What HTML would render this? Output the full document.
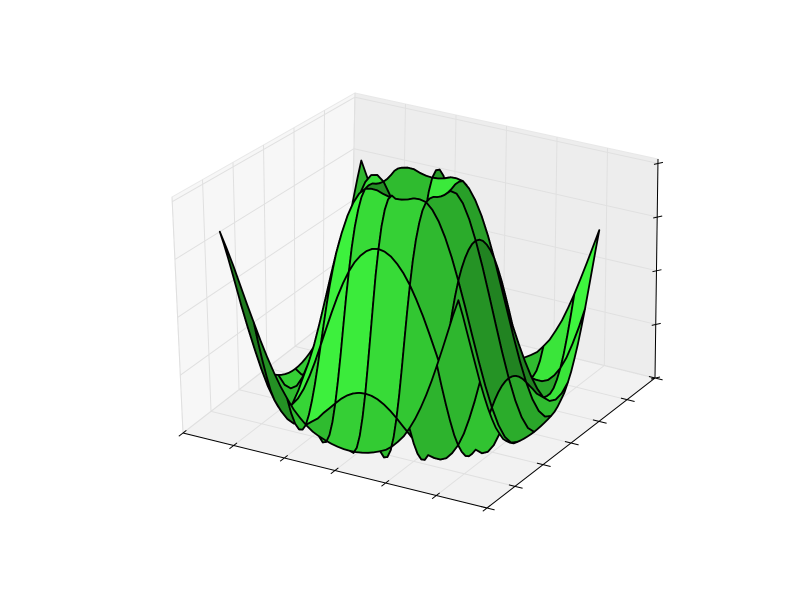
<!DOCTYPE html>
<html><head><meta charset="utf-8"><style>html,body{margin:0;padding:0;background:#fff}svg{display:block}</style></head>
<body>
<svg id="chart" width="800" height="600" viewBox="0 0 800 600" xmlns="http://www.w3.org/2000/svg">
<rect width="800" height="600" fill="#fff"/>
<g id="panes"></g>
<g id="surf"></g>
<g id="axes"></g>
</svg>
<script>
// radial profile of the surface: height vs distance from centre
const radius = [0,0.25,0.5,0.75,1,1.25,1.5,1.75,2,2.25,2.5,2.75,3,3.25,3.5,3.75,4,4.25,4.5,4.75,5,5.25,5.5,5.75,6,6.25,6.5,6.75,7,7.25];
const height = [0,.247,.479,.682,.841,.949,.997,.984,.909,.778,.598,.382,.141,-.108,-.351,-.572,-.757,-.895,-.978,-.999,-.959,-.859,-.706,-.508,-.279,-.033,.215,.451,.657,.823];
const gridMin = -5, gridStep = 0.25, gridCount = 40, stride = 5;
const xTicks = [0,1,2,3,4,5,6];
const yTicks = [0,1,2,3,4,5,6];
const zTicks = [0,1,2,3,4];
const NS='http://www.w3.org/2000/svg';
const xs=[];for(let k=0;k<gridCount;k++)xs.push(gridMin+k*gridStep);
const ys=xs.slice();
function profile(r){
  for(let k=0;k<radius.length-1;k++){
    if(r<=radius[k+1]){const t=(r-radius[k])/(radius[k+1]-radius[k]);return height[k]+t*(height[k+1]-height[k]);}
  }
  return height[height.length-1];
}
const Z=ys.map(y=>xs.map(x=>profile(Math.hypot(x,y))));
function P(u,v,w){
  const bx=183+304*u+168*v, by=433+75*u-130*v;
  const h=236+9*u-26*v, dx=(-11-u+15*v)*w;
  return [bx+dx, by-h*w];
}
const U=x=>0.095+0.785*(x+5)/9.75;
const V=y=>0.095+0.785*(y+5)/9.75;
const W=z=>0.01+0.97*(z+1)/2;
function mk(tag,attrs,parent){const e=document.createElementNS(NS,tag);for(const k in attrs)e.setAttribute(k,attrs[k]);parent.appendChild(e);return e;}
function pts(a){return a.map(p=>p[0].toFixed(1)+','+p[1].toFixed(1)).join(' ');}
const panes=document.getElementById('panes');
let e=mk('polygon',{points:pts([P(0,0,0),P(1,0,0),P(1,1,0),P(0,1,0)]),fill:'#f2f2f2',stroke:'#e8e8e8'},panes);

e=mk('polygon',{points:pts([P(0,0,0),P(0,1,0),P(0,1,1),P(0,0,1)]),fill:'#f7f7f7',stroke:'#e8e8e8'},panes);

e=mk('polygon',{points:pts([P(0,1,0),P(1,1,0),P(1,1,1),P(0,1,1)]),fill:'#ededed',stroke:'#e8e8e8'},panes);

const g='#e0e0e0';
xTicks.forEach(t=>{const u=t/6;
  e=mk('polyline',{points:pts([P(u,0,0),P(u,1,0),P(u,1,1)]),fill:'none',stroke:g,'stroke-width':1},panes);
  });
yTicks.forEach(t=>{const v=t/6;
  e=mk('polyline',{points:pts([P(1,v,0),P(0,v,0),P(0,v,1)]),fill:'none',stroke:g,'stroke-width':1},panes);
  });
zTicks.forEach(t=>{const w=t/4*0.98;
  e=mk('polyline',{points:pts([P(0,0,w),P(0,1,w),P(1,1,w)]),fill:'none',stroke:g,'stroke-width':1},panes);
  });
// surface
const surf=document.getElementById('surf');
const n=xs.length, faces=[];
function Q(i,j){return P(U(xs[j]),V(ys[i]),W(Z[i][j]));}
const idx=[];for(let k=0;k<n-1;k+=stride)idx.push(k);if(idx[idx.length-1]!==n-1)idx.push(n-1);
const light=[-0.667,-0.667,0.333];
for(let a=0;a<idx.length-1;a++)for(let b=0;b<idx.length-1;b++){
  const i0=idx[a],i1=idx[a+1],j0=idx[b],j1=idx[b+1];
  const poly=[];
  for(let k=j0;k<=j1;k++)poly.push(Q(i0,k));
  for(let k=i0+1;k<=i1;k++)poly.push(Q(k,j1));
  for(let k=j1-1;k>=j0;k--)poly.push(Q(i1,k));
  for(let k=i1-1;k>i0;k--)poly.push(Q(k,j0));
  const dx=xs[j1]-xs[j0], dy=ys[i1]-ys[i0];
  const d1=[dx,dy,(Z[i1][j1]-Z[i0][j0])], d2=[-dx,dy,(Z[i1][j0]-Z[i0][j1])];
  let nx=d1[1]*d2[2]-d1[2]*d2[1], ny=d1[2]*d2[0]-d1[0]*d2[2], nz=d1[0]*d2[1]-d1[1]*d2[0];
  const L=Math.hypot(nx,ny,nz);nx/=L;ny/=L;nz/=L;
  const shade=nx*light[0]+ny*light[1]+nz*light[2];
  let cu=0,cv=0,cw=0,cnt=0;
  for(let i=i0;i<=i1;i++)for(let j=j0;j<=j1;j++){cu+=U(xs[j]);cv+=V(ys[i]);cw+=W(Z[i][j]);cnt++;}
  faces.push({poly,shade,depth:(cu-cv+0.15*cw)/cnt});
}
const smin=Math.min(...faces.map(f=>f.shade)), smax=Math.max(...faces.map(f=>f.shade));
faces.sort((p,q)=>p.depth-q.depth);
faces.forEach(fc=>{
  const t=(fc.shade-smin)/(smax-smin||1);
  const f=0.5+0.5*t;
  const c='rgb('+Math.round(62*f)+','+Math.round(245*f)+','+Math.round(62*f)+')';
  const el=mk('polygon',{points:pts(fc.poly),fill:c,stroke:'#000','stroke-width':1.8,'stroke-linejoin':'round'},surf);
  
  
});
// axes
const ax=document.getElementById('axes');
e=mk('line',{x1:P(0,0,0)[0],y1:P(0,0,0)[1],x2:P(1,0,0)[0],y2:P(1,0,0)[1],stroke:'#000','stroke-width':1},ax);

e=mk('line',{x1:P(1,0,0)[0],y1:P(1,0,0)[1],x2:P(1,1,0)[0],y2:P(1,1,0)[1],stroke:'#000','stroke-width':1},ax);

e=mk('line',{x1:P(1,1,0)[0],y1:P(1,1,0)[1],x2:P(1,1,1)[0],y2:P(1,1,1)[1],stroke:'#000','stroke-width':1},ax);

xTicks.forEach(t=>{const u=t/6,a=P(u,-0.025,0),b=P(u,0.02,0);
  e=mk('line',{x1:a[0],y1:a[1],x2:b[0],y2:b[1],stroke:'#000','stroke-width':1},ax);
  });
yTicks.forEach(t=>{const v=t/6,a=P(1.025,v,0),b=P(0.98,v,0);
  e=mk('line',{x1:a[0],y1:a[1],x2:b[0],y2:b[1],stroke:'#000','stroke-width':1},ax);
  });
zTicks.forEach(t=>{const w=t/4*0.98,p=P(1,1,w);
  e=mk('line',{x1:p[0]-4,y1:p[1]+1,x2:p[0]+5,y2:p[1]-1,stroke:'#000','stroke-width':1},ax);
  });
</script>
</body></html>
